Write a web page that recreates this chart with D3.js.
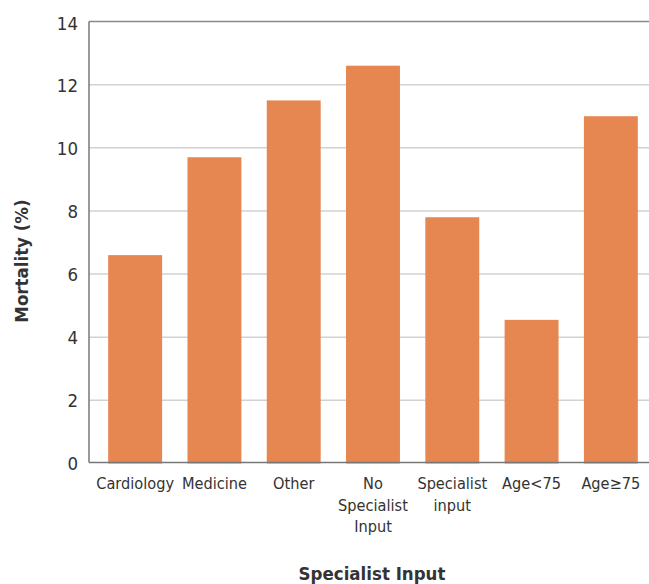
<!DOCTYPE html>
<html>
<head>
<meta charset="utf-8">
<script src="https://cdn.jsdelivr.net/npm/d3@7/dist/d3.min.js"></script>
<style>
  html, body { margin: 0; padding: 0; background: #fff; }
  svg text { font-family: "Liberation Sans Narrow", "DejaVu Sans Condensed", "Roboto", sans-serif; fill: #333; }
</style>
</head>
<body>
<svg id="chart" width="649" height="584"></svg>
<script>
// Mortality by specialist input category
const categories = [
  ["Cardiology"],
  ["Medicine"],
  ["Other"],
  ["No", "Specialist", "Input"],
  ["Specialist", "input"],
  ["Age<75"],
  ["Age\u226575"]
];
const mortality = [6.6, 9.7, 11.5, 12.6, 7.8, 4.55, 11.0];
const yTicks = [0, 2, 4, 6, 8, 10, 12, 14];
const xTitle = "Specialist Input";
const yTitle = "Mortality (%)";

const svg = d3.select("#chart");
const plotLeft = 89, plotRight = 657, plotTop = 21.5, plotBottom = 463.5;

const keys = categories.map(c => c.join(" "));
const x = d3.scaleBand().domain(keys).range([plotLeft, plotRight])
  .paddingInner(0.32).paddingOuter(0.242);
const y = d3.scaleLinear().domain([0, 14]).range([plotBottom, plotTop]);

// horizontal gridlines
svg.append("g").selectAll("line")
  .data(yTicks.filter(t => t > 0 && t < 14))
  .join("line")
  .attr("x1", plotLeft).attr("x2", 649)
  .attr("y1", d => y(d)).attr("y2", d => y(d))
  .attr("stroke", "#d2d2d2").attr("stroke-width", 1.5);

// bars
svg.append("g").selectAll("rect")
  .data(mortality)
  .join("rect")
  .attr("x", (d, i) => x(keys[i]))
  .attr("width", x.bandwidth())
  .attr("y", d => y(d))
  .attr("height", d => y(0) - y(d))
  .attr("fill", "#e68650");

// frame: top, left and bottom lines
svg.append("line").attr("x1", plotLeft).attr("x2", 649).attr("y1", y(14)).attr("y2", y(14))
  .attr("stroke", "#888").attr("stroke-width", 1.5);
svg.append("line").attr("x1", plotLeft).attr("x2", plotLeft).attr("y1", y(14)).attr("y2", y(0) - 1)
  .attr("stroke", "#777").attr("stroke-width", 1.5);
svg.append("line").attr("x1", plotLeft).attr("x2", 649).attr("y1", y(0) - 1).attr("y2", y(0) - 1)
  .attr("stroke", "#777").attr("stroke-width", 1.5);

// y axis tick labels
const yAxis = d3.axisLeft(y).tickValues(yTicks).tickSize(0).tickPadding(11);
const gy = svg.append("g").attr("transform", `translate(${plotLeft},0)`).call(yAxis);
gy.select(".domain").remove();
gy.selectAll("text").style("font-size", "18.5px").attr("fill", "#333")
  .attr("font-family", null).attr("dy", "0.35em");
gy.selectAll("text").filter(d => d === 14).attr("dy", "0.45em");
gy.attr("font-family", null).attr("font-size", null);

// x axis category labels (multi-line)
const xl = svg.append("g").selectAll("text")
  .data(categories)
  .join("text")
  .attr("text-anchor", "middle")
  .style("font-size", "16.2px")
  .attr("transform", (d, i) => `translate(${x(keys[i]) + x.bandwidth() / 2},489)`);
xl.selectAll("tspan")
  .data(d => d)
  .join("tspan")
  .attr("x", 0)
  .attr("dy", (d, j) => j === 0 ? 0 : 21.5)
  .text(d => d);

// axis titles
svg.append("text")
  .attr("x", 372).attr("y", 580)
  .attr("text-anchor", "middle")
  .style("font-size", "18.5px").style("font-weight", "bold")
  .style("font-family", "'DejaVu Sans Condensed', 'Liberation Sans Narrow', sans-serif")
  .text(xTitle);
svg.append("text")
  .attr("transform", "translate(28,261) rotate(-90)")
  .attr("text-anchor", "middle")
  .style("font-size", "18.5px").style("font-weight", "bold")
  .style("font-family", "'DejaVu Sans Condensed', 'Liberation Sans Narrow', sans-serif")
  .text(yTitle);
</script>
</body>
</html>
